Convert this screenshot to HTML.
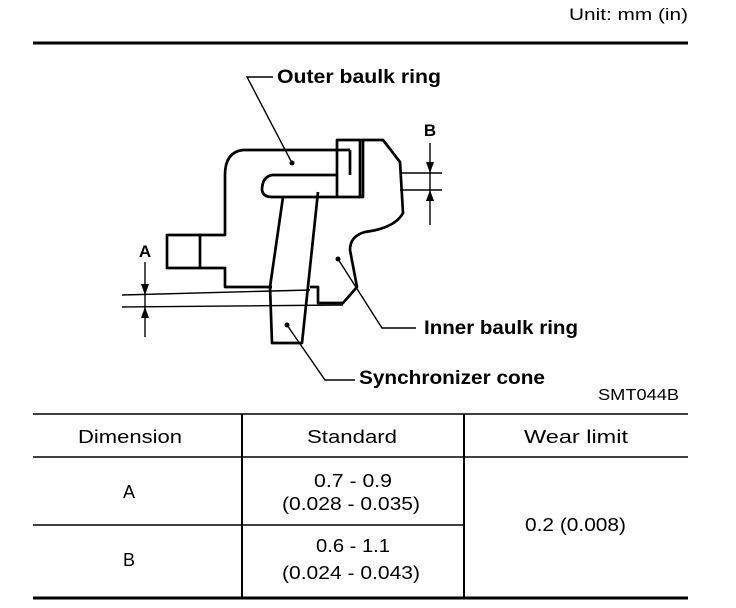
<!DOCTYPE html>
<html><head><meta charset="utf-8"><style>
body{margin:0;background:#fff;}
svg{display:block}
text{font-family:"Liberation Sans",sans-serif;fill:#000}
</style></head><body>
<svg width="736" height="608" viewBox="0 0 736 608" xmlns="http://www.w3.org/2000/svg">
<text x="569" y="20" font-size="17" textLength="119" lengthAdjust="spacingAndGlyphs">Unit: mm (in)</text>
<line x1="33" y1="43" x2="688" y2="43" stroke="#000" stroke-width="3"/>
<g fill="none" stroke="#000" stroke-width="2.7" stroke-linejoin="round">
<path d="M350,150 L243,150 Q225,152 225,175 L225,235 L167,235 L167,268 L225,268 L225,287 L272,287"/>
<line x1="200" y1="235" x2="200" y2="268"/>
<path d="M363,140 L337,140 L337,175 L272,175 Q262,177 262,190 Q263,197 272,197 L363,197 Z"/>
<line x1="350" y1="150" x2="350" y2="175"/>
<line x1="337" y1="175" x2="337" y2="197"/>
<line x1="360" y1="140" x2="360" y2="197"/>
<path d="M363,140 L383,140 L400,162 L403,213 Q395,228 365,232 Q350,236 350,250 L357,287 L343,303 L318,303 L318,287 L310,287"/>
<path d="M283,197 L270,287 L272,343 L302,343 L318,192"/>
</g>
<g stroke="#000" stroke-width="1.4" fill="none">
<line x1="122" y1="295" x2="310" y2="290"/>
<line x1="122" y1="307" x2="343" y2="305"/>
<line x1="400" y1="173" x2="442" y2="173"/>
<line x1="400" y1="190" x2="442" y2="190"/>
<line x1="145" y1="262" x2="145" y2="337"/>
<line x1="430" y1="143" x2="430" y2="225"/>
<polyline points="292,163 247,77 273,77"/>
<polyline points="338,259 382,328 416,328"/>
<polyline points="287,325 325,380 355,380"/>
</g>
<g fill="#000">
<path d="M141,284 L149,284 L145,295 Z"/><path d="M141,318 L149,318 L145,307 Z"/>
<path d="M426,162 L434,162 L430,173 Z"/><path d="M426,201 L434,201 L430,190 Z"/>
<circle cx="292" cy="163" r="2.5"/><circle cx="338" cy="259" r="2.5"/><circle cx="287" cy="325" r="2.5"/>
</g>
<text x="145" y="257" font-size="17" font-weight="bold" text-anchor="middle">A</text>
<text x="430" y="136" font-size="17" font-weight="bold" text-anchor="middle">B</text>
<text x="277" y="83" font-size="19" font-weight="bold" textLength="164" lengthAdjust="spacingAndGlyphs">Outer baulk ring</text>
<text x="424" y="334" font-size="19" font-weight="bold" textLength="154" lengthAdjust="spacingAndGlyphs">Inner baulk ring</text>
<text x="359" y="384" font-size="19" font-weight="bold" textLength="186" lengthAdjust="spacingAndGlyphs">Synchronizer cone</text>
<text x="598" y="400" font-size="16" textLength="81" lengthAdjust="spacingAndGlyphs">SMT044B</text>
<g stroke="#000" fill="none">
<line x1="33" y1="414" x2="688" y2="414" stroke-width="1.5"/>
<line x1="33" y1="457" x2="688" y2="457" stroke-width="1.5"/>
<line x1="33" y1="525" x2="464" y2="525" stroke-width="1.5"/>
<line x1="33" y1="598" x2="688" y2="598" stroke-width="3"/>
<line x1="242" y1="414" x2="242" y2="598" stroke-width="2"/>
<line x1="464" y1="414" x2="464" y2="598" stroke-width="2"/>
</g>
<g font-size="18">
<text x="78" y="443" textLength="104" lengthAdjust="spacingAndGlyphs">Dimension</text>
<text x="307" y="443" textLength="90" lengthAdjust="spacingAndGlyphs">Standard</text>
<text x="524" y="443" textLength="104" lengthAdjust="spacingAndGlyphs">Wear limit</text>
<text x="123" y="498">A</text>
<text x="314" y="487" textLength="78" lengthAdjust="spacingAndGlyphs">0.7 - 0.9</text>
<text x="282" y="510" textLength="138" lengthAdjust="spacingAndGlyphs">(0.028 - 0.035)</text>
<text x="123" y="566">B</text>
<text x="316" y="552" textLength="74" lengthAdjust="spacingAndGlyphs">0.6 - 1.1</text>
<text x="282" y="579" textLength="138" lengthAdjust="spacingAndGlyphs">(0.024 - 0.043)</text>
<text x="525" y="531" textLength="101" lengthAdjust="spacingAndGlyphs">0.2 (0.008)</text>
</g>
</svg>
</body></html>
